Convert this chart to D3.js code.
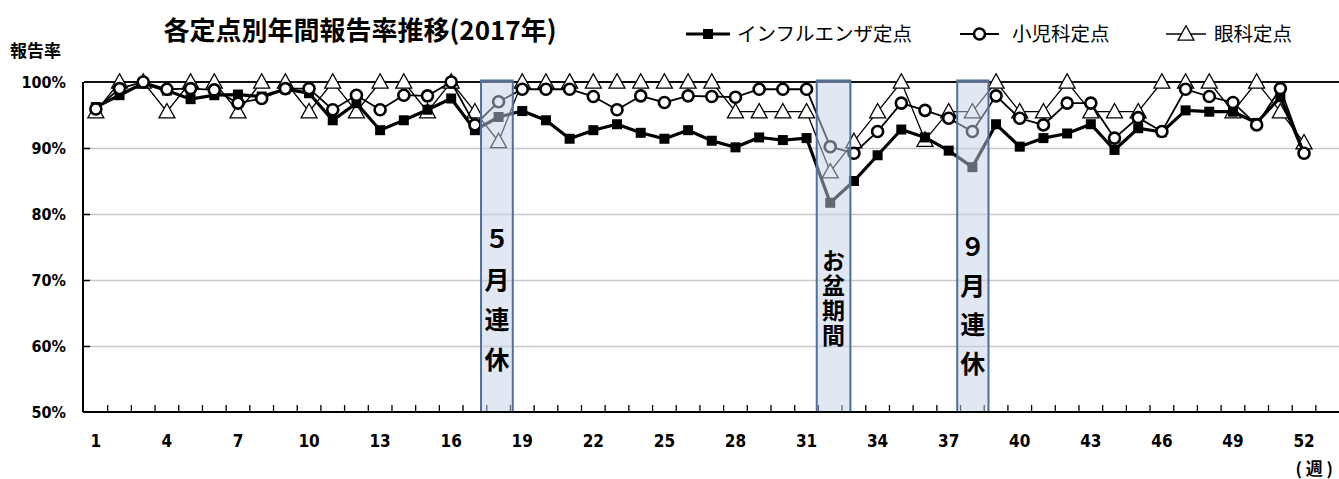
<!DOCTYPE html>
<html>
<head>
<meta charset="utf-8">
<script src="https://cdn.jsdelivr.net/npm/d3@7"></script>
<style>
  body { margin: 0; background: #fff; }
  svg text { fill: #000; }
  .num { font-family: "Liberation Sans Narrow", "DejaVu Sans Condensed", "Noto Sans CJK JP", sans-serif; font-weight: bold; }
  .jp { font-family: "Noto Sans CJK JP", sans-serif; }
  .grid line { stroke: #c8c8c8; stroke-width: 1.5; }
  .grid path { display: none; }
</style>
</head>
<body>
<div id="chart"></div>
<script>
// Chart data (report rates by week, 2017)
var weeks = d3.range(1, 53);
var influenza = [96.2, 98.0, 99.8, 98.7, 97.4, 98.0, 98.1, 97.8, 98.9, 98.3,
  94.2, 96.8, 92.7, 94.2, 95.8, 97.5, 92.7, 94.7, 95.6, 94.2,
  91.4, 92.7, 93.6, 92.3, 91.4, 92.7, 91.1, 90.1, 91.6, 91.2,
  91.5, 81.7, 85.0, 88.9, 92.8, 91.6, 89.6, 87.1, 93.6, 90.2,
  91.5, 92.2, 93.6, 89.7, 93.0, 92.4, 95.7, 95.5, 95.5, 93.8,
  97.7, 89.2];
var pediatric = [95.9, 99.0, 100.0, 98.9, 99.0, 98.8, 96.8, 97.5, 99.0, 99.0,
  95.8, 98.0, 95.8, 98.0, 97.9, 100.0, 93.5, 97.0, 98.9, 98.9,
  98.9, 97.8, 95.8, 97.9, 96.9, 97.9, 97.8, 97.7, 98.9, 98.9,
  98.9, 90.2, 89.2, 92.5, 96.8, 95.7, 94.5, 92.5, 97.9, 94.5,
  93.5, 96.8, 96.8, 91.5, 94.6, 92.5, 98.9, 97.8, 96.9, 93.5,
  99.0, 89.2];
var ophthalmology = [95.5, 100, 100, 95.5, 100, 100, 95.5, 100, 100, 95.5,
  100, 95.5, 100, 100, 95.5, 100, 95.5, 91.0, 100, 100,
  100, 100, 100, 100, 100, 100, 100, 95.5, 95.5, 95.5,
  95.5, 86.4, 91.0, 95.5, 100, 91.2, 95.5, 95.5, 100, 95.5,
  95.5, 100, 95.5, 95.5, 95.5, 100, 100, 100, 95.5, 100,
  95.5, 90.8];
var yTicks = [50, 60, 70, 80, 90, 100];
var xTickLabels = [1, 4, 7, 10, 13, 16, 19, 22, 25, 28, 31, 34, 37, 40, 43, 46, 49, 52];
var seriesNames = ["インフルエンザ定点", "小児科定点", "眼科定点"];
// holiday periods: start/end in week units, vertical label
var periods = [
  { from: 17.26, to: 18.6, label: "５月連休", top: 78.1, size: 25, spacing: 15 },
  { from: 31.43, to: 32.85, label: "お盆期間", top: 74.8, size: 23, spacing: 2 },
  { from: 37.36, to: 38.68, label: "９月連休", top: 77.0, size: 25, spacing: 14 }
];

var W = 1339, H = 479;
var margins = { top: 82, right: 0, bottom: 67, left: 84 };

var svg = d3.select("#chart").append("svg")
  .attr("width", W).attr("height", H);

var xScale = d3.scaleBand()
  .domain(d3.range(1, 54))
  .range([margins.left, margins.left + 53 * 23.69])
  .padding(0);

var yScale = d3.scaleLinear()
  .domain([50, 100])
  .range([H - margins.bottom, margins.top]);

var cx = function(w) { return xScale(w) + xScale.bandwidth() / 2; };

// grid
svg.append("g")
  .attr("class", "grid")
  .attr("transform", "translate(" + margins.left + ",0)")
  .call(d3.axisRight(yScale).tickValues([60, 70, 80, 90]).tickSize(W - margins.left).tickFormat(""));

// short dark ticks on y axis
svg.append("g")
  .attr("transform", "translate(" + margins.left + ",0)")
  .call(d3.axisRight(yScale).tickValues([60, 70, 80, 90]).tickSize(6).tickFormat(""))
  .call(g => g.select(".domain").remove())
  .selectAll("line").attr("stroke", "#000").attr("stroke-width", 1.5);

// 100% top line
svg.append("line")
  .attr("x1", margins.left).attr("x2", W)
  .attr("y1", yScale(100)).attr("y2", yScale(100))
  .attr("stroke", "#111").attr("stroke-width", 1.8);

// y labels
svg.append("g").selectAll("text")
  .data(yTicks).enter().append("text")
  .attr("class", "num")
  .attr("x", 66)
  .attr("y", d => yScale(d) + 6)
  .attr("text-anchor", "end")
  .attr("font-size", 16)
  .text(d => d + "%");

// x axis ticks between bands
var boundaries = d3.range(2, 54);
svg.append("g").selectAll("line")
  .data(boundaries).enter().append("line")
  .attr("x1", d => xScale(d)).attr("x2", d => xScale(d))
  .attr("y1", yScale(50)).attr("y2", yScale(50) - 7)
  .attr("stroke", "#000").attr("stroke-width", 1.3);

// x labels
svg.append("g").selectAll("text")
  .data(xTickLabels).enter().append("text")
  .attr("class", "num")
  .attr("x", d => cx(d))
  .attr("y", yScale(50) + 35)
  .attr("text-anchor", "middle")
  .attr("font-size", 17)
  .text(d => d);

// series
var lineGen = function(vals) {
  return d3.line()
    .x((d, i) => cx(weeks[i]))
    .y(d => yScale(d))(vals);
};

var triPath = function(s) {
  var h = s * 0.9;
  return "M0," + (-h / 2 - 1) + "L" + (s / 2) + "," + (h / 2 - 1) + "L" + (-s / 2) + "," + (h / 2 - 1) + "Z";
};

// ophthalmology
svg.append("path")
  .attr("d", lineGen(ophthalmology))
  .attr("fill", "none").attr("stroke", "#000").attr("stroke-width", 1.3);
svg.append("g").selectAll("path")
  .data(ophthalmology).enter().append("path")
  .attr("d", triPath(16))
  .attr("transform", (d, i) => "translate(" + cx(weeks[i]) + "," + yScale(d) + ")")
  .attr("fill", "#fff").attr("stroke", "#000").attr("stroke-width", 1.3);

// influenza
svg.append("path")
  .attr("d", lineGen(influenza))
  .attr("fill", "none").attr("stroke", "#000").attr("stroke-width", 3.2);
svg.append("g").selectAll("rect")
  .data(influenza).enter().append("rect")
  .attr("x", (d, i) => cx(weeks[i]) - 5)
  .attr("y", d => yScale(d) - 5)
  .attr("width", 10).attr("height", 10)
  .attr("fill", "#000");

// pediatric
svg.append("path")
  .attr("d", lineGen(pediatric))
  .attr("fill", "none").attr("stroke", "#000").attr("stroke-width", 1.8);
svg.append("g").selectAll("circle")
  .data(pediatric).enter().append("circle")
  .attr("cx", (d, i) => cx(weeks[i]))
  .attr("cy", d => yScale(d))
  .attr("r", 5.5)
  .attr("fill", "#fff").attr("stroke", "#000").attr("stroke-width", 2.6);

// holiday boxes
var unit = xScale.bandwidth();
var pxWeek = function(w) { return xScale(1) + (w - 0.5) * unit; };
var boxes = svg.append("g").selectAll("g")
  .data(periods).enter().append("g");
boxes.append("rect")
  .attr("x", d => pxWeek(d.from))
  .attr("y", yScale(100) - 1.5)
  .attr("width", d => pxWeek(d.to) - pxWeek(d.from))
  .attr("height", yScale(50) - yScale(100) + 1.5)
  .attr("fill", "#c6d0ea").attr("fill-opacity", 0.5)
  .attr("stroke", "#4f6f9c").attr("stroke-width", 2);
boxes.append("text")
  .attr("class", "jp")
  .attr("x", d => (pxWeek(d.from) + pxWeek(d.to)) / 2)
  .attr("y", d => yScale(d.top))
  .style("writing-mode", "vertical-rl")
  .style("letter-spacing", d => d.spacing + "px")
  .attr("font-size", d => d.size)
  .attr("font-weight", "bold")
  .text(d => d.label);

// axes lines
svg.append("line")
  .attr("x1", margins.left - 1).attr("x2", margins.left - 1)
  .attr("y1", yScale(100)).attr("y2", yScale(50))
  .attr("stroke", "#000").attr("stroke-width", 2);
svg.append("line")
  .attr("x1", margins.left - 1).attr("x2", W)
  .attr("y1", yScale(50)).attr("y2", yScale(50))
  .attr("stroke", "#000").attr("stroke-width", 2.2);

// titles
svg.append("text")
  .attr("class", "jp")
  .attr("x", 360).attr("y", 40)
  .attr("text-anchor", "middle")
  .attr("font-size", 26).attr("font-weight", "bold")
  .text("各定点別年間報告率推移(2017年)");

svg.append("text")
  .attr("class", "jp")
  .attr("x", 10).attr("y", 57)
  .attr("font-size", 17).attr("font-weight", "bold")
  .text("報告率");

svg.append("text")
  .attr("class", "jp")
  .attr("x", 1333).attr("y", 475)
  .attr("text-anchor", "end")
  .attr("font-size", 17).attr("font-weight", "bold")
  .text("( 週 )");

// legend
var legendY = 34;
var legend = svg.append("g");
var legendItems = [
  { x1: 686, x2: 730, text: 737 },
  { x1: 960, x2: 999, text: 1012 },
  { x1: 1166, x2: 1206, text: 1214 }
];
legendItems.forEach(function(l, i) {
  legend.append("line")
    .attr("x1", l.x1).attr("x2", l.x2)
    .attr("y1", legendY).attr("y2", legendY)
    .attr("stroke", "#000").attr("stroke-width", i == 0 ? 3.2 : (i == 1 ? 1.8 : 1.3));
  var mid = (l.x1 + l.x2) / 2;
  if (i == 0) {
    legend.append("rect").attr("x", mid - 5).attr("y", legendY - 5)
      .attr("width", 10).attr("height", 10).attr("fill", "#000");
  } else if (i == 1) {
    legend.append("circle").attr("cx", mid).attr("cy", legendY).attr("r", 5.5)
      .attr("fill", "#fff").attr("stroke", "#000").attr("stroke-width", 2.6);
  } else {
    legend.append("path").attr("d", triPath(16))
      .attr("transform", "translate(" + mid + "," + legendY + ")")
      .attr("fill", "#fff").attr("stroke", "#000").attr("stroke-width", 1.3);
  }
  legend.append("text")
    .attr("class", "jp")
    .attr("x", l.text).attr("y", legendY + 7)
    .attr("font-size", 19.5)
    .text(seriesNames[i]);
});
</script>
</body>
</html>
